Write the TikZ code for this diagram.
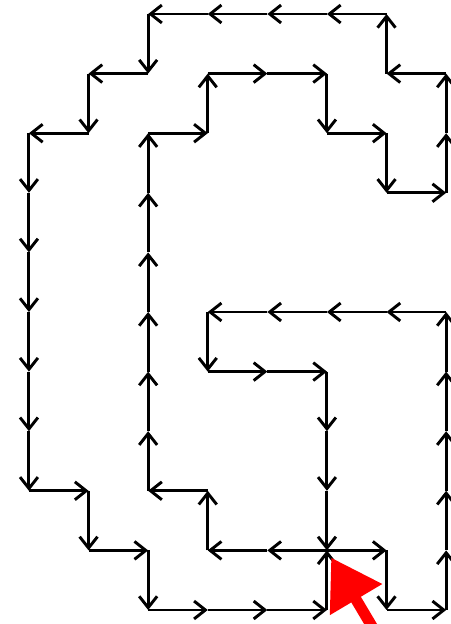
\documentclass[tikz,border=0pt]{standalone}
\usetikzlibrary{arrows.meta}

\begin{document}
\begin{tikzpicture}[
  edge/.style={line width=1.4pt, -{Straight Barb[length=1.9mm,width=3mm]}},
  pointer/.style={red, line width=5.3pt, -{Triangle[length=8.2mm,width=9.7mm]}}
]
\useasboundingbox (-0.486,-0.235) rectangle (7.07,10.235);
\coordinate (start) at (5,1);
% unit steps of the walk, each one ending in an arrow
\foreach \x/\y [remember=\x as \px (initially 5), remember=\y as \py (initially 1)] in
  {6/1, 6/0, 7/0, 7/1, 7/2, 7/3, 7/4, 7/5, 6/5, 5/5, 4/5, 3/5, 3/4, 4/4, 5/4,
   5/3, 5/2, 5/1, 4/1, 3/1, 3/2, 2/2, 2/3, 2/4, 2/5, 2/6, 2/7, 2/8, 3/8, 3/9,
   4/9, 5/9, 5/8, 6/8, 6/7, 7/7, 7/8, 7/9, 6/9, 6/10, 5/10, 4/10, 3/10, 2/10,
   2/9, 1/9, 1/8, 0/8, 0/7, 0/6, 0/5, 0/4, 0/3, 0/2, 1/2, 1/1, 2/1, 2/0, 3/0,
   4/0, 5/0, 5/1}
  \draw[edge] (\px,\py) -- (\x,\y);
% red pointer to the start
\coordinate (tip) at ([shift={(0.07,-0.12)}]start);
\coordinate (tail) at (5.80,-0.35);
\draw[pointer] (tail) -- (tip);
\end{tikzpicture}
\end{document}
